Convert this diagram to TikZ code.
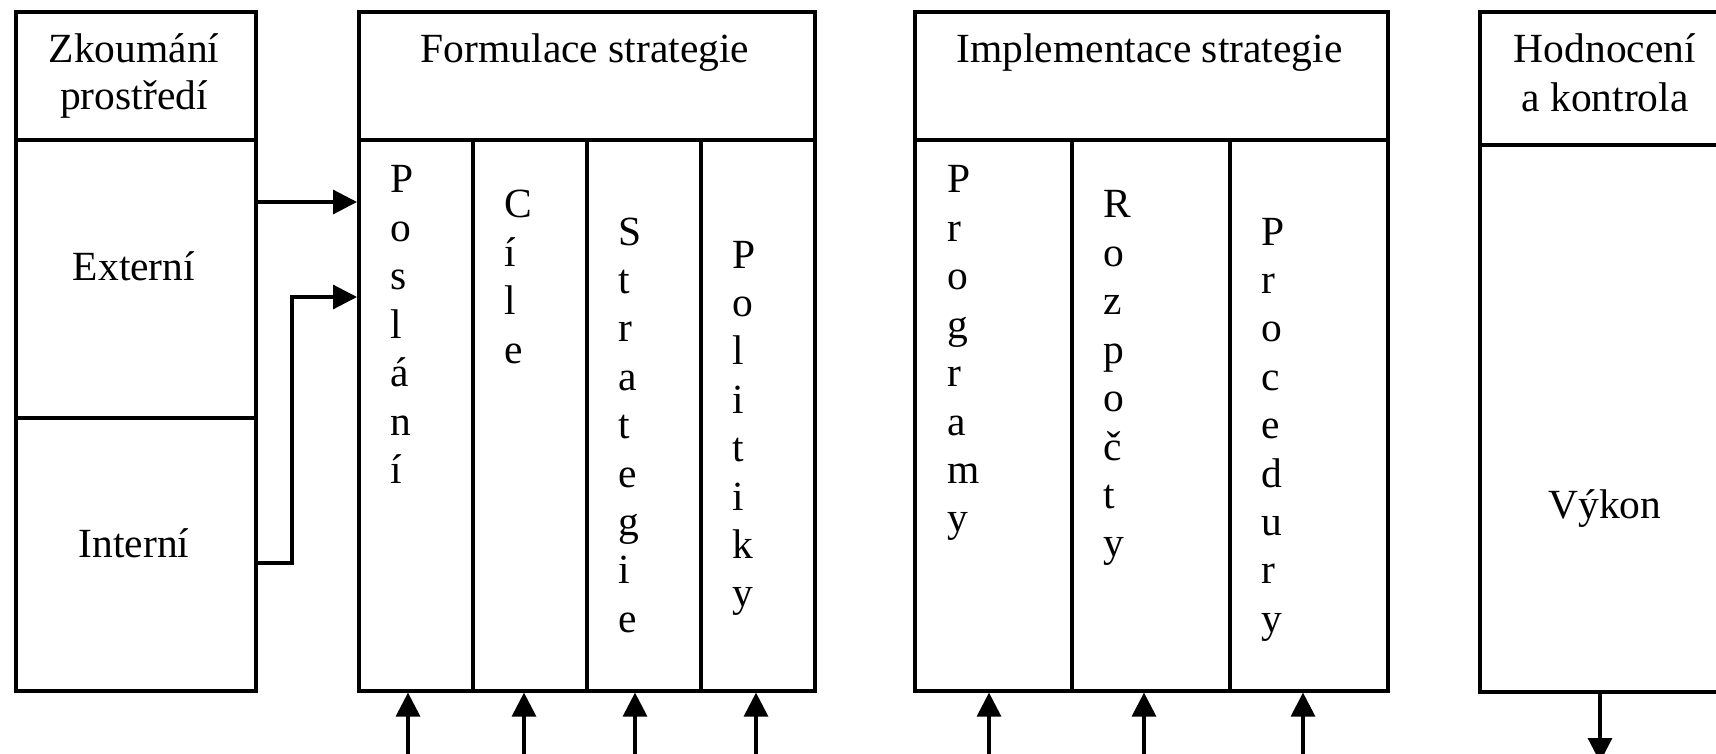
\documentclass[tikz,border=0pt]{standalone}
\usepackage{fontspec}
\setmainfont{Liberation Serif}
\usetikzlibrary{arrows.meta}

% one letter of a word that is written down a column
\newcommand\vertword[4]{%
  \foreach \ch [count=\k from 0] in {#4}
    \node[letter] (#1-\k) at (#2, #3+48.4*\k) {\ch};%
}

\begin{document}
\begin{tikzpicture}[x=1pt, y=-1pt,
  cell/.style={draw, line width=3.6pt, anchor=north west, inner sep=0pt,
    minimum width=#1},
  txt/.style={anchor=base, inner sep=0pt, font=\fontsize{41.5}{48}\selectfont},
  letter/.style={anchor=base west, inner sep=0pt, font=\fontsize{41.5}{48}\selectfont},
  arr/.style={line width=3.2pt, -{Triangle[length=24pt, width=24pt]}}
]
\useasboundingbox (0,0) rectangle (1716,754);
\clip (0,0) rectangle (1716,754);

% environmental scanning
\node[cell=240pt, minimum height=128pt] (zk)  at (14,10) {};
\node[cell=240pt, minimum height=278pt] (ext) at (14,138) {};
\node[cell=240pt, minimum height=273pt] (int) at (14,416) {};
\node[txt] (zk-a) at (134,63)  {Zkoumání};
\node[txt] (zk-b) at (134,110) {prostředí};
\node[txt] (ext-t) at (134,280) {Externí};
\node[txt] (int-t) at (134,557) {Interní};

% strategy formulation
\node[cell=456pt, minimum height=128pt] (fs)  at (357,10) {};
\node[cell=114pt, minimum height=551pt] (pos) at (357,138) {};
\node[cell=114pt, minimum height=551pt] (cil) at (471,138) {};
\node[cell=114pt, minimum height=551pt] (str) at (585,138) {};
\node[cell=114pt, minimum height=551pt] (pol) at (699,138) {};
\node[txt] (fs-t) at (585,63) {Formulace strategie};
\vertword{posl}{390}{193}{P,o,s,l,á,n,í}
\vertword{cile}{504}{218}{C,í,l,e}
\vertword{strat}{618}{245}{S,t,r,a,t,e,g,i,e}
\vertword{polit}{732}{268}{P,o,l,i,t,i,k,y}

% strategy implementation
\node[cell=473pt, minimum height=128pt] (is)  at (913,10) {};
\node[cell=157pt, minimum height=551pt] (prg) at (913,138) {};
\node[cell=158pt, minimum height=551pt] (roz) at (1070,138) {};
\node[cell=158pt, minimum height=551pt] (prc) at (1228,138) {};
\node[txt] (is-t) at (1149.5,63) {Implementace strategie};
\vertword{progr}{947}{193}{P,r,o,g,r,a,m,y}
\vertword{rozp}{1103}{218}{R,o,z,p,o,č,t,y}
\vertword{proc}{1261}{245}{P,r,o,c,e,d,u,r,y}

% evaluation and control
\node[cell=254pt, minimum height=133pt] (hk)  at (1478,10) {};
\node[cell=254pt, minimum height=547pt] (vyk) at (1478,143) {};
\node[txt] (hk-a) at (1605,63)  {Hodnocení};
\node[txt] (hk-b) at (1605,112) {a kontrola};
\node[txt] (vyk-t) at (1605,518) {Výkon};

% inputs from the environment
\draw[arr] (ext.east |- 0,202) -- (pos.west |- 0,202);
\draw[arr] (int.east |- 0,563) -- (292,563) -- (292,297) -- (pos.west |- 0,297);

% inputs from below
\foreach \xx/\nm in {408/pos, 524/cil, 635/str, 756/pol, 989/prg, 1144/roz, 1303/prc} {
  \coordinate (in-\nm) at (\xx,775);
  \draw[arr] (in-\nm) -- (in-\nm |- \nm.south);
}

% output of the evaluation
\coordinate (out) at (1600,762);
\draw[arr] (out |- vyk.south) -- (out);
\end{tikzpicture}
\end{document}
